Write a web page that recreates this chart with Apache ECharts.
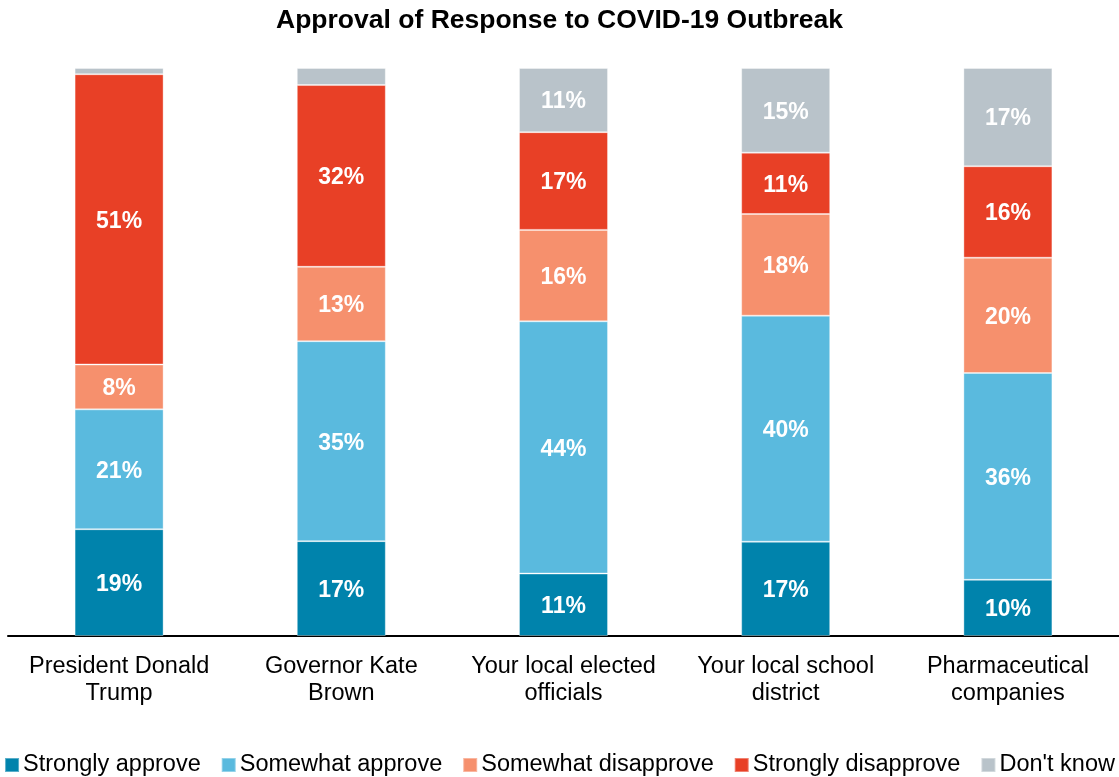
<!DOCTYPE html>
<html>
<head>
<meta charset="utf-8">
<script src="https://cdn.jsdelivr.net/npm/echarts@6/dist/echarts.min.js"></script>
<style>
html,body{margin:0;padding:0;background:#fff;}
#chart{width:1119px;height:777px;}
</style>
</head>
<body>
<div id="chart"></div>
<script>
const categories = ["President Donald\nTrump", "Governor Kate\nBrown", "Your local elected\nofficials", "Your local school\ndistrict", "Pharmaceutical\ncompanies"];
const seriesNames = ["Strongly approve", "Somewhat approve", "Somewhat disapprove", "Strongly disapprove", "Don't know"];
const stronglyApprove = [18.8, 16.7, 11.0, 16.6, 9.9];
const somewhatApprove = [21.1, 35.2, 44.4, 39.8, 36.4];
const somewhatDisapprove = [7.9, 13.1, 16.1, 17.9, 20.3];
const stronglyDisapprove = [51.1, 32.0, 17.2, 10.8, 16.1];
const dontKnow = [1.1, 3.0, 11.3, 14.9, 17.3];
const colors = ["#0083AC", "#5ABADE", "#F6906D", "#E84026", "#B9C3CA"];

const FONT = "'Liberation Sans', Arial, sans-serif";
const allData = [stronglyApprove, somewhatApprove, somewhatDisapprove, stronglyDisapprove, dontKnow];

const chart = echarts.init(document.getElementById('chart'), null, {renderer: 'canvas'});
chart.setOption({
  animation: false,
  backgroundColor: '#fff',
  color: colors,
  title: {
    text: 'Approval of Response to COVID-19 Outbreak',
    left: 'center',
    top: 7,
    padding: 0,
    textStyle: {fontFamily: FONT, fontSize: 26.5, fontWeight: 'bold', color: '#000'}
  },
  legend: {
    data: seriesNames,
    left: 'center',
    top: 753,
    padding: 0,
    itemWidth: 14,
    itemHeight: 14,
    itemGap: 20,
    icon: 'rect',
    textStyle: {fontFamily: FONT, fontSize: 23.5, color: '#000', padding: [0, 0, 0, -1]}
  },
  grid: {left: 8, right: 0, top: 68, bottom: 141, containLabel: false},
  xAxis: {
    type: 'category',
    data: categories,
    axisLine: {show: true, lineStyle: {color: '#000', width: 2}},
    axisTick: {show: false},
    axisLabel: {fontFamily: FONT, fontSize: 23.5, color: '#000', lineHeight: 27, margin: 17, interval: 0}
  },
  yAxis: {
    type: 'value', min: 0, max: 100, show: false,
    splitLine: {show: false}
  },
  series: allData.map((d, i) => ({
    name: seriesNames[i],
    type: 'bar',
    stack: 'total',
    barWidth: 89,
    data: d,
    itemStyle: {color: colors[i], borderColor: 'rgba(255,255,255,0.35)', borderWidth: 1},
    label: {
      show: true,
      position: 'inside',
      offset: [0, 2],
      color: '#fff',
      fontFamily: FONT,
      fontSize: 23,
      fontWeight: 'bold',
      formatter: p => p.value >= 5 ? Math.round(p.value) + '%' : ''
    }
  }))
});
</script>
</body>
</html>
